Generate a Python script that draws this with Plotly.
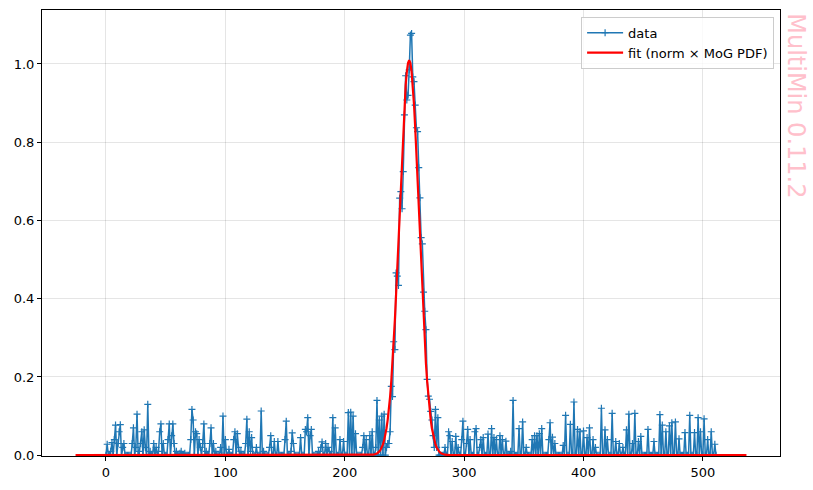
import plotly.graph_objects as go

# ---- data ----
data_y = [
    0.0, 0.028, 0.0, 0.0, 0.01, 0.032, 0.0, 0.04, 0.077, 0.0,
    0.03, 0.06, 0.078, 0.0, 0.02, 0.03, 0.0, 0.0, 0.0, 0.0,
    0.0, 0.0, 0.03, 0.07, 0.0, 0.02, 0.105, 0.0, 0.01, 0.03,
    0.06, 0.0, 0.065, 0.02, 0.0, 0.13, 0.0, 0.01, 0.0, 0.0,
    0.03, 0.0, 0.02, 0.0, 0.01, 0.06, 0.08, 0.0, 0.03, 0.0,
    0.0, 0.0, 0.04, 0.08, 0.0, 0.05, 0.08, 0.03, 0.0, 0.01,
    0.0, 0.0, 0.005, 0.01, 0.0, 0.0, 0.005, 0.0, 0.0, 0.0,
    0.0, 0.04, 0.117, 0.09, 0.0, 0.06, 0.055, 0.0, 0.04, 0.02,
    0.0, 0.03, 0.08, 0.0, 0.01, 0.0, 0.0, 0.03, 0.07, 0.0,
    0.03, 0.0, 0.01, 0.0, 0.0, 0.0, 0.02, 0.0, 0.1, 0.0,
    0.04, 0.0, 0.0, 0.015, 0.0, 0.0, 0.0, 0.04, 0.06, 0.0,
    0.055, 0.02, 0.0, 0.01, 0.0, 0.0, 0.0, 0.03, 0.092, 0.0,
    0.06, 0.01, 0.045, 0.0, 0.0, 0.0, 0.02, 0.0, 0.0, 0.0,
    0.113, 0.0, 0.01, 0.0, 0.0, 0.0, 0.0, 0.02, 0.05, 0.0,
    0.0, 0.035, 0.0, 0.0, 0.035, 0.0, 0.0, 0.0, 0.0, 0.0,
    0.04, 0.087, 0.0, 0.0, 0.0, 0.01, 0.057, 0.03, 0.0, 0.0,
    0.0, 0.0, 0.0, 0.045, 0.0, 0.0, 0.0, 0.066, 0.06, 0.096,
    0.0, 0.05, 0.066, 0.0, 0.0, 0.0, 0.0, 0.0, 0.01, 0.0,
    0.02, 0.034, 0.0, 0.0, 0.03, 0.0, 0.02, 0.01, 0.0, 0.0,
    0.096, 0.0, 0.07, 0.0, 0.0, 0.0, 0.04, 0.0, 0.0, 0.035,
    0.0, 0.0, 0.0, 0.109, 0.0, 0.11, 0.0, 0.1, 0.0, 0.055,
    0.0, 0.0, 0.0, 0.0, 0.0, 0.02, 0.05, 0.0, 0.04, 0.0,
    0.0, 0.05, 0.0, 0.06, 0.0, 0.0, 0.02, 0.14, 0.0, 0.09,
    0.0, 0.1, 0.0, 0.105, 0.0, 0.02, 0.03, 0.03, 0.06, 0.176,
    0.15, 0.29, 0.27, 0.466, 0.458, 0.434, 0.657, 0.674, 0.63, 0.725,
    0.87, 0.97, 0.908, 0.92, 0.985, 1.074, 1.078, 0.967, 0.955, 0.895,
    0.837, 0.827, 0.735, 0.658, 0.556, 0.54, 0.417, 0.368, 0.321, 0.194,
    0.151, 0.143, 0.112, 0.09, 0.05, 0.02, 0.117, 0.02, 0.096, 0.0,
    0.0, 0.0, 0.0, 0.0, 0.02, 0.0, 0.0, 0.06, 0.05, 0.0,
    0.035, 0.0, 0.0, 0.048, 0.0, 0.02, 0.0, 0.0, 0.04, 0.087,
    0.0, 0.0, 0.03, 0.066, 0.0, 0.04, 0.0, 0.0, 0.0, 0.06,
    0.068, 0.0, 0.0, 0.02, 0.04, 0.0, 0.045, 0.0, 0.0, 0.0,
    0.054, 0.0, 0.0, 0.068, 0.0, 0.045, 0.0, 0.04, 0.0, 0.0,
    0.05, 0.0, 0.04, 0.0, 0.0, 0.036, 0.0, 0.0, 0.0, 0.01,
    0.0, 0.14, 0.0, 0.0, 0.0, 0.0, 0.068, 0.0, 0.0, 0.085,
    0.0, 0.0, 0.02, 0.0, 0.0, 0.0, 0.0, 0.04, 0.0, 0.05,
    0.0, 0.05, 0.0, 0.055, 0.0, 0.068, 0.0, 0.0, 0.0, 0.0,
    0.0, 0.04, 0.083, 0.0, 0.046, 0.0, 0.03, 0.0, 0.0, 0.0,
    0.0, 0.0, 0.0, 0.025, 0.0, 0.102, 0.0, 0.0, 0.0, 0.079,
    0.0, 0.0, 0.136, 0.0, 0.0, 0.066, 0.0, 0.06, 0.0, 0.0,
    0.062, 0.0, 0.0, 0.045, 0.0, 0.07, 0.0, 0.0, 0.04, 0.0,
    0.02, 0.0, 0.0, 0.0, 0.0, 0.12, 0.0, 0.0, 0.065, 0.0,
    0.04, 0.0, 0.0, 0.0, 0.107, 0.0, 0.0, 0.035, 0.0, 0.0,
    0.03, 0.0, 0.0, 0.02, 0.0, 0.0, 0.065, 0.0, 0.105, 0.0,
    0.0, 0.03, 0.0, 0.107, 0.0, 0.0, 0.035, 0.0, 0.048, 0.0,
    0.0, 0.0, 0.0, 0.0, 0.066, 0.0, 0.0, 0.0, 0.0, 0.035,
    0.0, 0.0, 0.0, 0.0, 0.104, 0.0, 0.077, 0.0, 0.0, 0.06,
    0.0, 0.0, 0.075, 0.0, 0.083, 0.0, 0.0, 0.085, 0.0, 0.0,
    0.042, 0.0, 0.0, 0.0, 0.0, 0.058, 0.0, 0.0, 0.0, 0.102,
    0.0, 0.0, 0.0, 0.058, 0.0, 0.0, 0.096, 0.0, 0.06, 0.0,
    0.0, 0.093, 0.0, 0.0, 0.04, 0.0, 0.0, 0.06, 0.0, 0.0,
    0.028, 0.0,
]
data_x = list(range(len(data_y)))

fit_x = [-25.5, 220, 224] + list(range(227, 282)) + [284, 288, 536.5]
fit_y = [
    0.0, 0.0002, 0.0013,
    0.0045, 0.0066, 0.0097, 0.0139, 0.0198, 0.0276, 0.038, 0.0515, 0.069,
    0.091, 0.118, 0.150, 0.190, 0.235, 0.287, 0.346, 0.411, 0.480,
    0.553, 0.628, 0.702, 0.773, 0.839, 0.897, 0.945, 0.980, 1.0025,
    1.01,
    1.0025, 0.980, 0.945, 0.897, 0.839, 0.773, 0.702, 0.628, 0.553,
    0.480, 0.411, 0.346, 0.287, 0.235, 0.190, 0.150, 0.118, 0.091,
    0.069, 0.0515, 0.038, 0.0276, 0.0198, 0.0139, 0.0097, 0.0066, 0.0045,
    0.0013, 0.0002, 0.0,
]

x_ticks = [0, 100, 200, 300, 400, 500]
y_ticks = [0.0, 0.2, 0.4, 0.6, 0.8, 1.0]
x_range = [-53.6, 564.6]
y_range = [-0.002, 1.138]

FONT = "DejaVu Sans, Liberation Sans, sans-serif"

fig = go.Figure()
fig.add_trace(go.Scatter(
    x=data_x, y=data_y, mode="lines+markers", name="data",
    line=dict(color="#1f77b4", width=1.5),
    marker=dict(symbol="cross-thin", size=5, color="#1f77b4",
                line=dict(color="#1f77b4", width=1.2)),
))
fig.add_trace(go.Scatter(
    x=fit_x, y=fit_y, mode="lines", name="fit (norm × MoG PDF)",
    line=dict(color="red", width=2.2),
))

axis_common = dict(
    showline=True, linecolor="black", linewidth=1, mirror=True,
    ticks="outside", ticklen=4, tickcolor="black", tickwidth=1,
    showgrid=True, gridcolor="rgba(0,0,0,0.1)", gridwidth=1,
    zeroline=False, layer="below traces",
    tickfont=dict(family=FONT, size=13, color="black"),
)
fig.update_xaxes(range=x_range, tickvals=x_ticks, **axis_common)
fig.update_yaxes(range=y_range, tickvals=y_ticks, tickformat=".1f", **axis_common)

fig.update_layout(
    width=813, height=490,
    margin=dict(l=42, r=33, t=10, b=34),
    plot_bgcolor="white", paper_bgcolor="white",
    font=dict(family=FONT, size=13, color="black"),
    legend=dict(x=0.992, y=0.985, xanchor="right", yanchor="top",
                bgcolor="rgba(255,255,255,0.8)", bordercolor="#cccccc",
                borderwidth=1, font=dict(family=FONT, size=13),
                itemwidth=36, tracegroupgap=2),
    annotations=[dict(
        text="MultiMin 0.11.2", textangle=90, showarrow=False,
        xref="paper", yref="paper", x=1.0225, y=0.997,
        xanchor="center", yanchor="top",
        font=dict(family=FONT, size=24, color="pink"),
    )],
)

fig.write_html("out.html")
